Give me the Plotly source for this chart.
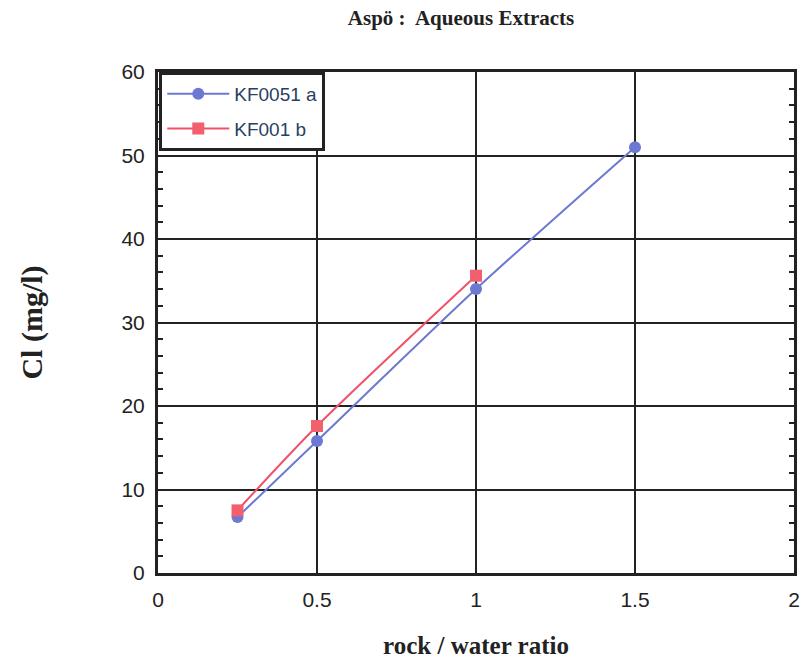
import plotly.graph_objects as go

# rock/water ratio and chloride concentration (mg/l)
ratio_a = [0.25, 0.5, 1.0, 1.5]
cl_a = [6.7, 15.8, 34.0, 51.0]
ratio_b = [0.25, 0.5, 1.0]
cl_b = [7.5, 17.6, 35.6]

blue = "#6c78d2"
red = "#f2506a"

fig = go.Figure()
fig.add_trace(go.Scatter(
    x=ratio_a, y=cl_a, name="KF0051 a", mode="lines+markers",
    line=dict(color=blue, width=2, shape="spline", smoothing=0.8),
    marker=dict(symbol="circle", size=12, color=blue),
    legendgroup="a",
))
fig.add_trace(go.Scatter(
    x=ratio_b, y=cl_b, name="KF001 b", mode="lines+markers",
    line=dict(color=red, width=2, shape="spline", smoothing=0.8),
    marker=dict(symbol="square", size=12, color="#f2606e"),
    legendgroup="b",
))

axis_common = dict(
    showline=True, linecolor="#222", linewidth=3, mirror="ticks",
    showgrid=True, gridcolor="#222", gridwidth=2,
    zeroline=False, ticks="inside", ticklen=6, tickcolor="#222", tickwidth=2,
    ticklabelstandoff=6,
    tickfont=dict(family="Liberation Sans, Arial, sans-serif", size=21, color="#222"),
)

serif = "Liberation Serif, Times New Roman, serif"

fig.update_layout(
    width=806, height=663,
    margin=dict(l=158, r=6, t=72, b=90),
    paper_bgcolor="white", plot_bgcolor="white",
    title=dict(text="<b>Aspö :  Aqueous Extracts</b>", x=0.572, xanchor="center", y=0.974, yanchor="middle",
               font=dict(family=serif, size=21, color="#222")),
    xaxis=dict(range=[0, 2], dtick=0.5, **axis_common,
               title=dict(text="<b>rock / water ratio</b>", standoff=27,
                          font=dict(family=serif, size=25, color="#222"))),
    yaxis=dict(range=[0, 60], dtick=10, **axis_common,
               minor=dict(dtick=2, ticks="inside", ticklen=5, tickcolor="#222", showgrid=False),
               title=dict(text="<b>Cl (mg/l)</b>", standoff=70,
                          font=dict(family=serif, size=30, color="#222"))),
    legend=dict(x=0.002, y=1.0, xanchor="left", yanchor="top",
                bgcolor="white", bordercolor="#222", borderwidth=3,
                tracegroupgap=7, itemwidth=62,
                font=dict(family="Liberation Sans, Arial, sans-serif", size=19)),
    showlegend=True,
)

fig.write_html("out.html")
